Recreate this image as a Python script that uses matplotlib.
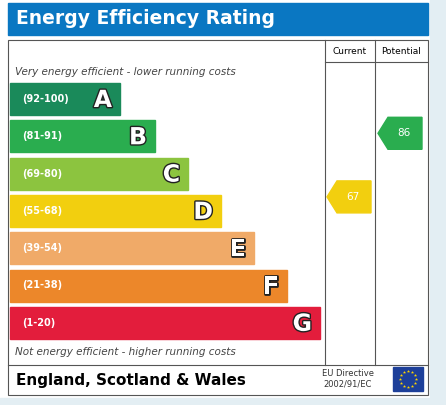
import matplotlib
matplotlib.use("Agg")
import matplotlib.pyplot as plt
import matplotlib.patheffects as pe
from matplotlib.patches import Rectangle, Polygon
import numpy as np

letters = ["A", "B", "C", "D", "E", "F", "G"]
ranges = ["(92-100)", "(81-91)", "(69-80)", "(55-68)", "(39-54)", "(21-38)", "(1-20)"]
colors = ["#1a8a5a", "#2aad4f", "#8cc43f", "#f2cf0f", "#f0aa68", "#ec872a", "#e31d3c"]
band_ends = [120, 155, 188, 221, 254, 287, 320]
current_value = 67
potential_value = 86
current_band = 3
potential_band = 1

W, H = 446, 405
fig = plt.figure(figsize=(W/100, H/100), dpi=100)
ax = fig.add_axes([0, 0, 1, 1])
ax.set_xlim(0, W); ax.set_ylim(H, 0); ax.axis("off")

ax.add_patch(Rectangle((430, 0), 16, H, color="#e3eef3"))
ax.add_patch(Rectangle((0, 398), W, 7, color="#e3eef3"))
ax.add_patch(Rectangle((8, 3), 420, 32, color="#0a77c2"))
ax.text(16, 19, "Energy Efficiency Rating", color="white", fontsize=13.5, fontweight="bold", va="center")

lc = "#555555"
ax.add_patch(Rectangle((8, 40), 420, 355, fill=False, ec=lc, lw=0.8))
ax.plot([325, 325], [40, 365], color=lc, lw=0.8)
ax.plot([375, 375], [40, 365], color=lc, lw=0.8)
ax.plot([325, 428], [62, 62], color=lc, lw=0.8)
ax.plot([8, 428], [365, 365], color=lc, lw=0.8)
ax.text(350, 51, "Current", fontsize=6.5, ha="center", va="center")
ax.text(401, 51, "Potential", fontsize=6.5, ha="center", va="center")
ax.text(15, 72, "Very energy efficient - lower running costs", fontsize=7.5, style="italic", color="#444", va="center")
ax.text(15, 352, "Not energy efficient - higher running costs", fontsize=7.5, style="italic", color="#444", va="center")

tops = [83 + i * 37.3 for i in range(7)]
bh = 32
for i, (L, r, c, e) in enumerate(zip(letters, ranges, colors, band_ends)):
    y = tops[i]
    ax.add_patch(Rectangle((10, y), e - 10, bh, color=c))
    ax.text(22, y + bh/2, r, fontsize=7, fontweight="bold", color="white", va="center")
    ax.text(e - 8, y + bh/2 + 1, L, fontsize=17, fontweight="bold", color="white", va="center", ha="right",
            path_effects=[pe.withStroke(linewidth=2, foreground="#222")])

def arrow(x0, x1, y, c, v):
    pts = [(x0, y + bh/2), (x0 + 10, y), (x1, y), (x1, y + bh), (x0 + 10, y + bh)]
    ax.add_patch(Polygon(pts, color=c))
    ax.text((x0 + x1)/2 + 4, y + bh/2, str(v), color="white", fontsize=7.5, ha="center", va="center")
arrow(327, 371, tops[current_band] - 14, colors[current_band], current_value)
arrow(378, 422, tops[potential_band] - 3, colors[potential_band], potential_value)

ax.text(16, 380, "England, Scotland & Wales", fontsize=11, fontweight="bold", va="center")
ax.text(348, 373, "EU Directive", fontsize=6, ha="center", va="center", color="#333")
ax.text(348, 384, "2002/91/EC", fontsize=6, ha="center", va="center", color="#333")
ax.add_patch(Rectangle((393, 367), 30, 24, color="#1d3f99"))
ang = np.linspace(0, 2*np.pi, 12, endpoint=False)
ax.scatter(408 + 8*np.cos(ang), 379 + 8*np.sin(ang), marker="*", s=6, color="#ffd500", lw=0)

fig.savefig("out.png", dpi=100)
